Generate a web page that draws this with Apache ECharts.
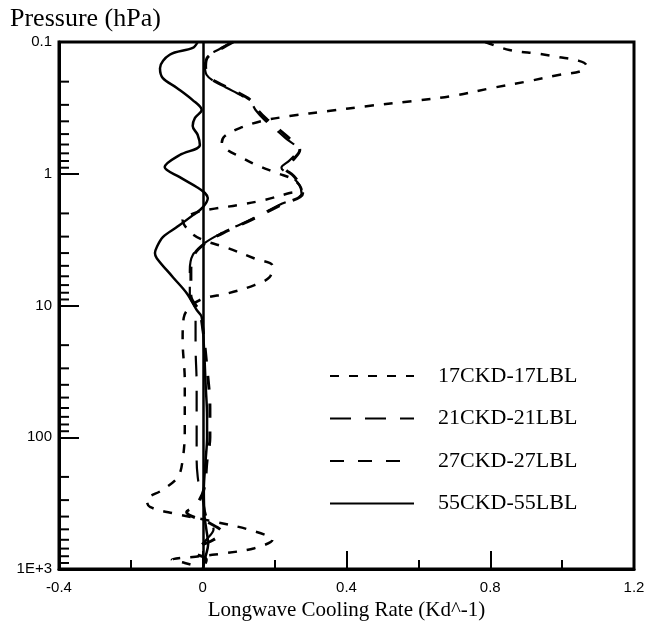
<!DOCTYPE html>
<html>
<head>
<meta charset="utf-8">
<script src="https://cdn.jsdelivr.net/npm/echarts@6/dist/echarts.min.js"></script>
<style>
  html, body { margin: 0; padding: 0; background: #fff; }
  #chart { width: 649px; height: 627px; }
</style>
</head>
<body>
<div id="chart"></div>
<script>
// pressure levels (hPa) and cooling-rate differences (K/day)
const p17 = [0.1, 0.115, 0.123, 0.13, 0.139, 0.15, 0.166, 0.178, 0.198, 0.223, 0.257, 0.281, 0.306, 0.334, 0.365, 0.398, 0.45, 0.518, 0.584, 0.66, 0.74, 0.86, 0.99, 1.12, 1.33, 1.4, 1.58, 1.72, 1.84, 1.91, 2.05, 2.24, 2.75, 3.18, 3.66, 4.4, 5.0, 6.1, 7.0, 8.1, 8.9, 10.3, 12.4, 18.3, 37, 89, 149, 200, 250, 300, 338, 380, 430, 505, 600, 695, 760, 800, 850, 900, 970];
const v17 = [0.786, 0.853, 0.936, 0.99, 1.047, 1.067, 1.053, 0.99, 0.908, 0.806, 0.694, 0.583, 0.461, 0.35, 0.242, 0.164, 0.103, 0.061, 0.053, 0.069, 0.103, 0.15, 0.208, 0.256, 0.275, 0.242, 0.172, 0.103, 0.033, 0.0, -0.036, -0.056, -0.036, 0.0, 0.069, 0.144, 0.194, 0.186, 0.144, 0.069, 0.0, -0.036, -0.053, -0.056, -0.05, -0.05, -0.056, -0.069, -0.111, -0.156, -0.147, -0.078, 0.019, 0.131, 0.194, 0.144, 0.061, -0.008, -0.086, -0.05, -0.008];

const p21 = [0.1, 0.113, 0.13, 0.152, 0.178, 0.2, 0.235, 0.28, 0.328, 0.39, 0.53, 0.66, 0.79, 0.9, 1.04, 1.22, 1.41, 1.72, 2.24, 2.82, 3.35, 4.15, 5.4, 8.4, 10.8, 20, 40, 80, 150, 200, 250, 300, 400, 500, 600, 700, 850, 1000];
const v21 = [0.081, 0.047, 0.011, 0.006, 0.011, 0.033, 0.083, 0.131, 0.147, 0.172, 0.228, 0.264, 0.242, 0.219, 0.247, 0.269, 0.275, 0.214, 0.131, 0.053, 0.006, -0.028, -0.036, -0.036, -0.02, -0.02, -0.017, -0.017, -0.017, -0.014, -0.008, 0.0, 0.01, 0.03, 0.01, -0.01, 0.005, 0.0];

const p27 = [0.1, 0.113, 0.13, 0.152, 0.178, 0.2, 0.235, 0.28, 0.328, 0.39, 0.53, 0.66, 0.79, 0.9, 1.04, 1.22, 1.41, 1.72, 2.24, 2.82, 3.35, 4.15, 5.4, 8.4, 11, 15, 30, 60, 100, 150, 250, 330, 370, 450, 530, 600, 680, 750, 850, 1000];
const v27 = [0.085, 0.05, 0.014, 0.008, 0.014, 0.036, 0.088, 0.136, 0.153, 0.18, 0.238, 0.27, 0.25, 0.228, 0.253, 0.272, 0.278, 0.218, 0.135, 0.056, 0.008, -0.025, -0.033, -0.033, -0.01, 0.0, 0.012, 0.02, 0.02, 0.012, 0.003, -0.02, -0.045, 0.02, 0.055, 0.03, -0.01, -0.02, 0.01, 0.0];

const p55 = [0.1, 0.111, 0.125, 0.158, 0.188, 0.223, 0.276, 0.328, 0.378, 0.434, 0.508, 0.606, 0.72, 0.89, 1.06, 1.26, 1.4, 1.53, 1.8, 2.07, 2.54, 3.03, 3.61, 4.0, 4.37, 6.1, 8.1, 10.8, 12.2, 20, 40, 70, 100, 150, 250, 400, 500, 650, 800, 1000];
const v55 = [-0.014, -0.028, -0.092, -0.119, -0.111, -0.072, -0.028, -0.003, -0.022, -0.028, -0.014, -0.008, -0.064, -0.106, -0.064, -0.017, 0.006, 0.014, 0.0, -0.028, -0.072, -0.111, -0.128, -0.133, -0.128, -0.083, -0.044, -0.017, -0.003, 0.003, 0.008, 0.012, 0.012, 0.008, 0.003, 0.005, 0.01, 0.015, 0.008, 0.0];

const names = ['17CKD-17LBL', '21CKD-21LBL', '27CKD-27LBL', '55CKD-55LBL'];
const yLabels = { '0.1': '0.1', '1': '1', '10': '10', '100': '100', '1000': '1E+3' };
const minorY = [0.2, 0.3, 0.4, 0.5, 0.6, 0.7, 0.8, 0.9, 2, 3, 4, 5, 6, 7, 8, 9, 20, 30, 40, 50, 60, 70, 80, 90, 200, 300, 400, 500, 600, 700, 800, 900];

function pairs(vals, ps) {
  return vals.map((v, i) => [v, ps[i]]);
}

const serif = 'Liberation Serif';
const sans = 'Liberation Sans';

function lineSeries(name, vals, ps, dash, width) {
  return {
    name: name,
    type: 'line',
    data: pairs(vals, ps),
    smooth: 0.35,
    symbol: 'none',
    lineStyle: { color: '#000', width: width, type: dash },
    itemStyle: { color: '#000' },
    z: 3
  };
}

const chart = echarts.init(document.getElementById('chart'));
const s55 = lineSeries(names[3], v55, p55, 'solid', 2.5);
// vertical zero line
s55.markLine = {
  silent: true,
  symbol: ['none', 'none'],
  label: { show: false },
  lineStyle: { color: '#000', width: 2.5, type: 'solid' },
  data: [{ xAxis: 0 }]
};

chart.setOption({
  animation: false,
  title: {
    text: 'Pressure (hPa)',
    left: 10,
    top: 6,
    padding: 0,
    textStyle: { fontFamily: serif, fontSize: 26, fontWeight: 'normal', color: '#000' }
  },
  legend: {
    data: names,
    orient: 'vertical',
    left: 329,
    top: 365,
    padding: 0,
    itemWidth: 84,
    itemHeight: 14,
    itemGap: 20.5,
    itemStyle: { color: 'rgba(0,0,0,0)', borderWidth: 0, opacity: 0 },
    textStyle: { fontFamily: serif, fontSize: 22, color: '#000', lineHeight: 20, padding: [0, 0, 0, 19] }
  },
  grid: {
    left: 59, right: 15, top: 42, bottom: 58,
    outerBoundsMode: 'none',
    show: true, borderColor: '#000', borderWidth: 3
  },
  xAxis: {
    type: 'value',
    min: -0.4, max: 1.2, interval: 0.4,
    name: 'Longwave Cooling Rate (Kd^-1)',
    nameLocation: 'middle',
    nameGap: 29,
    nameTextStyle: { fontFamily: serif, fontSize: 21, color: '#000' },
    axisLine: { onZero: false, lineStyle: { color: '#000', width: 3 } },
    axisTick: { inside: true, length: 18, lineStyle: { color: '#000', width: 2 } },
    minorTick: { show: true, splitNumber: 2, length: 9, lineStyle: { color: '#000', width: 2 } },
    axisLabel: { fontFamily: sans, fontSize: 15, color: '#000', margin: 11 },
    splitLine: { show: false }
  },
  yAxis: {
    type: 'log',
    logBase: 10,
    min: 0.1, max: 1000,
    inverse: true,
    axisLine: { onZero: false, lineStyle: { color: '#000', width: 3 } },
    axisTick: { inside: true, length: 20, lineStyle: { color: '#000', width: 2 } },
    axisLabel: {
      fontFamily: sans, fontSize: 15, color: '#000', margin: 7,
      formatter: function (v) {
        const k = String(Math.round(v * 10) / 10);
        return yLabels[k] !== undefined ? yLabels[k] : k;
      }
    },
    splitLine: { show: false }
  },
  series: [
    lineSeries(names[0], v17, p17, [9, 10], 2.5),
    lineSeries(names[1], v21, p21, [21, 14], 2.2),
    lineSeries(names[2], v27, p27, [14, 14], 3),
    s55,
    {
      // minor ticks of the log axis (2..9 in each decade)
      type: 'custom',
      silent: true,
      data: minorY.map(v => [-0.4, v]),
      encode: { x: 0, y: 1 },
      renderItem: function (params, api) {
        const pt = api.coord([api.value(0), api.value(1)]);
        return {
          type: 'line',
          shape: { x1: pt[0], y1: pt[1], x2: pt[0] + 10, y2: pt[1] },
          style: { stroke: '#000', lineWidth: 2 }
        };
      },
      z: 4
    }
  ]
});
</script>
</body>
</html>
